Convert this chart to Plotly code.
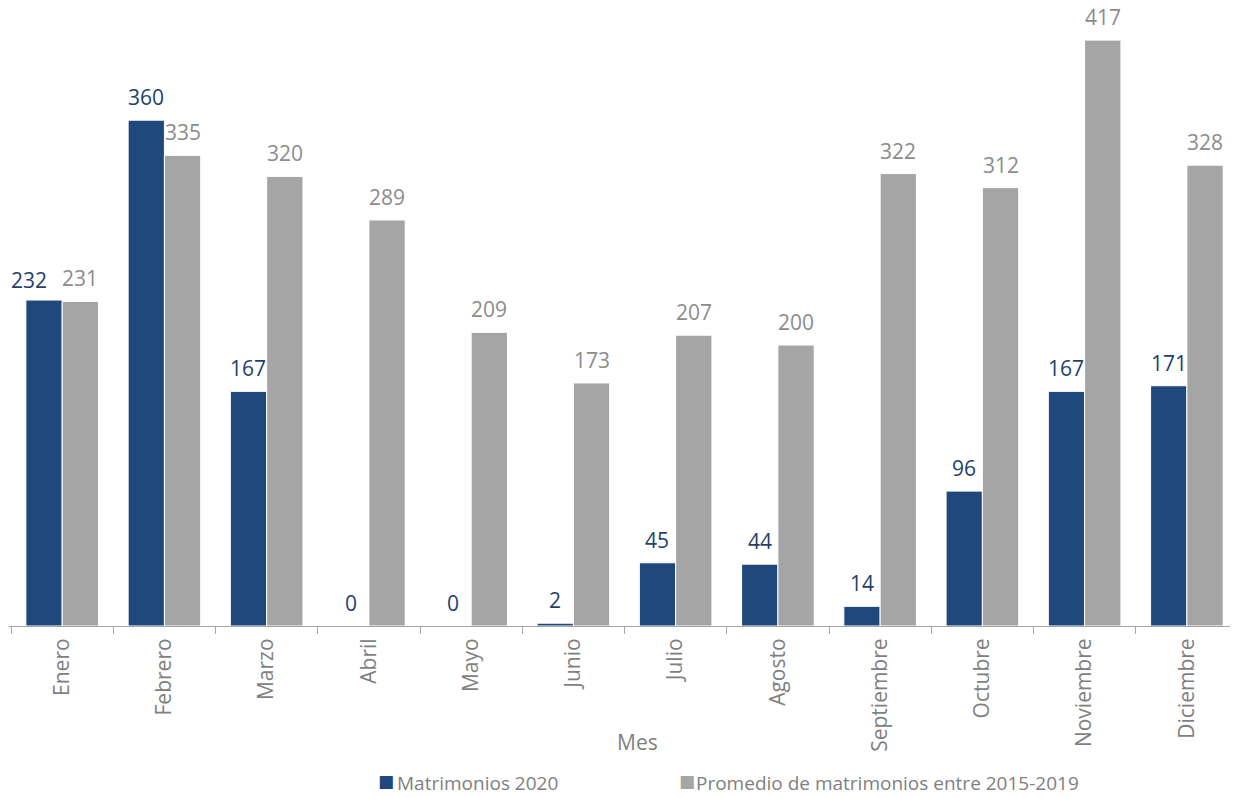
import plotly.graph_objects as go

meses = ["Enero", "Febrero", "Marzo", "Abril", "Mayo", "Junio", "Julio",
         "Agosto", "Septiembre", "Octubre", "Noviembre", "Diciembre"]
matrimonios_2020 = [232, 360, 167, 0, 0, 2, 45, 44, 14, 96, 167, 171]
promedio_2015_2019 = [231, 335, 320, 289, 209, 173, 207, 200, 322, 312, 417, 328]
nombres = ["Matrimonios 2020", "Promedio de matrimonios entre 2015-2019"]

BLUE = "#1f497d"
GRAY = "#a5a5a5"
TXT = "#7f7f7f"
FONT = "Open Sans"
# the page has an 8px body margin, so the figure is slightly smaller than the window
W, H = 1230, 789
ML, MR, MT, MB = 1, 0, 0, 171
PW, PH = W - ML - MR, H - MT - MB
BARGAP = 0.29
PX_PER_UNIT = 1.405


def px_x(page_x):
    return (page_x - 8 - ML) / PW


def px_y(page_y):
    return (PH - (page_y - 8 - MT)) / PH


fig = go.Figure()
for vals, name, col in [(matrimonios_2020, nombres[0], BLUE),
                        (promedio_2015_2019, nombres[1], GRAY)]:
    fig.add_trace(go.Bar(
        x=meses, y=vals, name=name,
        marker=dict(color=col, line=dict(color="white", width=1)),
        showlegend=False,
    ))

# value labels above bars (nudge the blue label left when both labels would collide)
cat_w = PW / len(meses)
bar_w = cat_w * (1 - BARGAP) / 2
for m, v1, v2 in zip(meses, matrimonios_2020, promedio_2015_2019):
    collide = abs(v1 - v2) * PX_PER_UNIT < 20
    fig.add_annotation(
        x=m, y=v1, xref="x", yref="y", text=str(v1), showarrow=False,
        xshift=-bar_w / 2 - (15 if collide else 0), yanchor="bottom",
        yshift=4 if collide else 7,
        font=dict(family=FONT, size=21, color="#1f3f6e"),
    )
    fig.add_annotation(
        x=m, y=v2, xref="x", yref="y", text=str(v2), showarrow=False,
        xshift=bar_w / 2, yanchor="bottom", yshift=7,
        font=dict(family=FONT, size=21, color="#8c8c8c"),
    )

# axis title
fig.add_annotation(
    x=px_x(637), y=px_y(742), xref="paper", yref="paper", showarrow=False,
    xanchor="center", yanchor="middle", text="Mes",
    font=dict(family=FONT, size=21, color=TXT),
)

# legend
for sq_x, txt_x, col, name in [(376, 395, BLUE, nombres[0]), (677, 694, GRAY, nombres[1])]:
    fig.add_annotation(
        x=px_x(sq_x), y=px_y(781), xref="paper", yref="paper", showarrow=False,
        xanchor="left", yanchor="middle", text="■",
        font=dict(family="DejaVu Sans", size=17, color=col),
    )
    fig.add_annotation(
        x=px_x(txt_x), y=px_y(783), xref="paper", yref="paper", showarrow=False,
        xanchor="left", yanchor="middle", text=name,
        font=dict(family=FONT, size=19, color=TXT),
    )

fig.update_layout(
    width=W, height=H,
    margin=dict(l=ML, r=MR, t=MT, b=MB, autoexpand=False),
    paper_bgcolor="white", plot_bgcolor="white",
    barmode="group", bargap=BARGAP, bargroupgap=0.0,
    font=dict(family=FONT, color=TXT, size=18),
    showlegend=False,
    xaxis=dict(
        automargin=False,
        tickangle=-90, tickson="boundaries", ticks="outside", ticklen=7,
        tickcolor="#a6a6a6", showline=True, linecolor="#a6a6a6", linewidth=1,
        tickfont=dict(family=FONT, size=21, color=TXT), ticklabelstandoff=3,
        showgrid=False,
    ),
    yaxis=dict(range=[0, PH / PX_PER_UNIT], visible=False, showgrid=False, zeroline=False,
               automargin=False),
)

fig.write_html("out.html")
